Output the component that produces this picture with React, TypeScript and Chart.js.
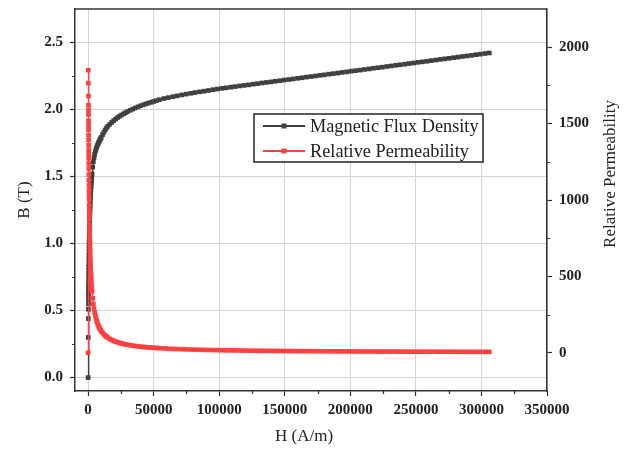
import React, { useEffect, useRef } from 'react';
import { Chart, registerables } from 'chart.js';

Chart.register(...registerables);

// Magnetic field strength H (A/m)
const fieldH = [
  0, 130, 200, 240, 270, 290, 310,
  330, 345, 360, 380, 400, 425, 450, 475, 500, 530,
  560, 600, 640, 680, 720, 760, 800, 850, 900, 950,
  1000, 1070, 1140, 1200, 1280, 1360, 1440, 1520, 1600, 1700,
  1800, 1900, 2000, 2150, 2300, 2450, 2600, 2800, 3000,
  3500, 4000, 4500, 5000, 5500, 6000, 6500, 7000, 7500, 8000,
  8500, 9000, 9500, 10000, 11000, 12000, 13000, 14000, 15000, 16500,
  18000, 19500, 21000, 22500, 24000, 25500, 27000, 28500, 30000, 32000,
  34000, 36000, 38000, 40000, 42000, 44000, 46000, 48000, 50000, 52000,
  54400, 57800, 61200, 64600, 68000, 71400, 74800, 78200, 81600, 85000,
  88400, 91800, 95200, 98600, 102000, 105400, 108800, 112200, 115600, 119000,
  122400, 125800, 129200, 132600, 136000, 139400, 142800, 146200, 149600, 153000,
  156400, 159800, 163200, 166600, 170000, 173400, 176800, 180200, 183600, 187000,
  190400, 193800, 197200, 200600, 204000, 207400, 210800, 214200, 217600, 221000,
  224400, 227800, 231200, 234600, 238000, 241400, 244800, 248200, 251600, 255000,
  258400, 261800, 265200, 268600, 272000, 275400, 278800, 282200, 285600, 289000,
  292400, 295800, 299200, 302600, 306000,
];

// Magnetic flux density B (T)
const fluxB = [
  0, 0.30, 0.44, 0.51, 0.55, 0.58, 0.605,
  0.630, 0.645, 0.660, 0.680, 0.700, 0.725, 0.750, 0.775, 0.800, 0.825,
  0.849, 0.880, 0.909, 0.936, 0.961, 0.985, 1.010, 1.034, 1.057, 1.079,
  1.100, 1.128, 1.155, 1.180, 1.206, 1.230, 1.252, 1.274, 1.292, 1.314,
  1.336, 1.358, 1.380, 1.405, 1.428, 1.450, 1.468, 1.495, 1.520,
  1.570, 1.610, 1.640, 1.665, 1.685, 1.703, 1.718, 1.731, 1.743, 1.754,
  1.764, 1.774, 1.783, 1.792, 1.812, 1.830, 1.847, 1.862, 1.875, 1.890,
  1.904, 1.917, 1.929, 1.940, 1.950, 1.959, 1.968, 1.976, 1.984, 1.994,
  2.003, 2.012, 2.020, 2.028, 2.035, 2.042, 2.048, 2.054, 2.060, 2.066,
  2.073, 2.082, 2.089, 2.096, 2.102, 2.109, 2.115, 2.121, 2.127, 2.132,
  2.137, 2.142, 2.148, 2.153, 2.158, 2.162, 2.167, 2.171, 2.176, 2.180,
  2.184, 2.189, 2.193, 2.198, 2.202, 2.206, 2.211, 2.215, 2.220, 2.224,
  2.228, 2.233, 2.237, 2.242, 2.246, 2.250, 2.255, 2.259, 2.264, 2.268,
  2.272, 2.277, 2.281, 2.286, 2.290, 2.294, 2.299, 2.303, 2.308, 2.312,
  2.316, 2.321, 2.325, 2.330, 2.334, 2.338, 2.343, 2.347, 2.352, 2.356,
  2.360, 2.365, 2.369, 2.374, 2.378, 2.382, 2.387, 2.391, 2.396, 2.400,
  2.404, 2.409, 2.413, 2.418, 2.422,
];

// Relative permeability
const relPerm = [
  0, 1850, 1765, 1680, 1620, 1587, 1559,
  1519, 1488, 1459, 1424, 1393, 1358, 1326, 1298, 1273, 1239,
  1206, 1167, 1130, 1095, 1062, 1031, 1005, 968, 935, 904,
  875, 839, 806, 783, 750, 720, 692, 667, 643, 615,
  591, 569, 549, 520, 494, 471, 449, 425, 403,
  357, 320, 290, 265, 244, 226, 210, 197, 185, 174.5,
  165, 157, 149, 142.6, 131, 121.4, 113.1, 105.8, 99.5, 91.2,
  84.2, 78.2, 73.1, 68.6, 64.7, 61.1, 58.0, 55.2, 52.6, 49.6,
  46.9, 44.5, 42.3, 40.3, 38.6, 36.9, 35.4, 34.1, 32.8, 31.6,
  30.3, 28.7, 27.2, 25.8, 24.6, 23.5, 22.5, 21.6, 20.7, 20.0,
  19.2, 18.6, 18.0, 17.4, 16.8, 16.3, 15.8, 15.4, 15.0, 14.6,
  14.2, 13.8, 13.5, 13.2, 12.9, 12.6, 12.3, 12.1, 11.8, 11.6,
  11.3, 11.1, 10.9, 10.7, 10.5, 10.3, 10.1, 10.0, 9.8, 9.7,
  9.5, 9.3, 9.2, 9.1, 8.9, 8.8, 8.7, 8.6, 8.4, 8.3,
  8.2, 8.1, 8.0, 7.9, 7.8, 7.7, 7.6, 7.5, 7.4, 7.4,
  7.3, 7.2, 7.1, 7.0, 7.0, 6.9, 6.8, 6.7, 6.7, 6.6,
  6.5, 6.5, 6.4, 6.4, 6.3,
];

const seriesNames = ['Magnetic Flux Density', 'Relative Permeability'];
const xTitle = 'H (A/m)';
const yTitle = 'B (T)';
const y1Title = 'Relative Permeability';

const xTicks = [0, 50000, 100000, 150000, 200000, 250000, 300000, 350000];
const xMinor = [25000, 75000, 125000, 175000, 225000, 275000, 325000];
const bTicks = [0, 0.5, 1.0, 1.5, 2.0, 2.5];
const bMinor = [0.25, 0.75, 1.25, 1.75, 2.25];
const muTicks = [0, 500, 1000, 1500, 2000];
const muMinor = [250, 750, 1250, 1750];

const BLACK = '#404040';
const RED = '#ff4040';
const AXIS = '#333333';
const GRID = '#d4d4d4';
const SERIF = '"Liberation Serif", "Times New Roman", serif';

const noPad = (scale: any) => {
  scale.paddingTop = 0;
  scale.paddingBottom = 0;
  scale.paddingLeft = 0;
  scale.paddingRight = 0;
};

const decorPlugin = {
  id: 'decor',
  afterDraw(chart: any) {
    const { ctx, chartArea: a, scales } = chart;
    ctx.save();
    // top frame line
    ctx.strokeStyle = AXIS;
    ctx.lineWidth = 1.5;
    ctx.beginPath();
    ctx.moveTo(a.left, a.top);
    ctx.lineTo(a.right, a.top);
    ctx.stroke();

    // minor ticks
    ctx.lineWidth = 1.2;
    ctx.beginPath();
    xMinor.forEach((v) => {
      const px = Math.round(scales.x.getPixelForValue(v)) + 0.5;
      ctx.moveTo(px, a.bottom);
      ctx.lineTo(px, a.bottom + 3);
    });
    bMinor.forEach((v) => {
      const py = Math.round(scales.y.getPixelForValue(v)) + 0.5;
      ctx.moveTo(a.left, py);
      ctx.lineTo(a.left - 3, py);
    });
    muMinor.forEach((v) => {
      const py = Math.round(scales.y1.getPixelForValue(v)) + 0.5;
      ctx.moveTo(a.right, py);
      ctx.lineTo(a.right + 3, py);
    });
    ctx.stroke();

    // axis titles
    ctx.fillStyle = '#222';
    ctx.font = `17px ${SERIF}`;
    ctx.textAlign = 'center';
    ctx.textBaseline = 'middle';
    ctx.fillText(xTitle, (a.left + a.right) / 2 - 7, 429);
    ctx.save();
    ctx.translate(16.5, (a.top + a.bottom) / 2);
    ctx.rotate(-Math.PI / 2);
    ctx.fillText(yTitle, 0, 0);
    ctx.restore();
    ctx.save();
    ctx.translate(603, (a.top + a.bottom) / 2 - 26);
    ctx.rotate(-Math.PI / 2);
    ctx.fillText(y1Title, 0, 0);
    ctx.restore();

    // legend
    const bx = a.left + 179;
    const by = a.top + 105;
    const bw = 229;
    const bh = 48;
    ctx.fillStyle = '#ffffff';
    ctx.fillRect(bx, by, bw, bh);
    ctx.strokeStyle = '#222';
    ctx.lineWidth = 1.5;
    ctx.strokeRect(bx, by, bw, bh);
    const colors = [BLACK, RED];
    seriesNames.forEach((name, i) => {
      const cy = by + 12 + i * 25;
      ctx.strokeStyle = colors[i];
      ctx.lineWidth = 2;
      ctx.beginPath();
      ctx.moveTo(bx + 9, cy);
      ctx.lineTo(bx + 51, cy);
      ctx.stroke();
      ctx.fillStyle = colors[i];
      ctx.fillRect(bx + 30 - 2.5, cy - 2.5, 5, 5);
      ctx.fillStyle = '#222';
      ctx.font = `18.3px ${SERIF}`;
      ctx.textAlign = 'left';
      ctx.textBaseline = 'middle';
      ctx.fillText(name, bx + 56, cy + 1);
    });
    ctx.restore();
  },
};

export default function App() {
  const canvasRef = useRef<HTMLCanvasElement | null>(null);

  useEffect(() => {
    const canvas = canvasRef.current;
    if (!canvas) return;
    const bData = fieldH.map((h, i) => ({ x: h, y: fluxB[i] }));
    const muData = fieldH.map((h, i) => ({ x: h, y: relPerm[i] }));
    const tickFont = { family: SERIF, size: 15, weight: 'bold' as const };

    const chart = new Chart(canvas, {
      type: 'scatter',
      data: {
        datasets: [
          {
            label: seriesNames[0],
            data: bData,
            yAxisID: 'y',
            showLine: true,
            borderColor: BLACK,
            backgroundColor: BLACK,
            borderWidth: 1.5,
            pointStyle: 'rect',
            pointRadius: 3.3,
            pointBorderWidth: 0,
            pointBackgroundColor: BLACK,
            order: 1,
          },
          {
            label: seriesNames[1],
            data: muData,
            yAxisID: 'y1',
            showLine: true,
            borderColor: RED,
            backgroundColor: RED,
            borderWidth: 1.5,
            pointStyle: 'rect',
            pointRadius: 3.3,
            pointBorderWidth: 0,
            pointBackgroundColor: RED,
            order: 0,
          },
        ],
      },
      options: {
        animation: false,
        responsive: true,
        maintainAspectRatio: false,
        devicePixelRatio: 1,
        layout: { autoPadding: false, padding: { top: 1, left: 0, right: 0, bottom: 0 } },
        plugins: {
          legend: { display: false },
          tooltip: { enabled: false },
          title: { display: false },
        },
        scales: {
          x: {
            type: 'linear',
            position: 'bottom',
            min: -10000,
            max: 350000,
            afterBuildTicks: (scale: any) => {
              scale.ticks = xTicks.map((v) => ({ value: v }));
            },
            afterFit: (scale: any) => {
              scale.height = 55;
              noPad(scale);
            },
            ticks: {
              font: tickFont,
              color: '#222',
              padding: 5,
              maxRotation: 0,
              autoSkip: false,
              callback: (v: any) => String(v),
            },
            grid: { color: GRID, lineWidth: 1, tickLength: 5, tickColor: AXIS, tickWidth: 1.2 },
            border: { display: true, color: AXIS, width: 1.5 },
            title: { display: false },
          },
          y: {
            type: 'linear',
            position: 'left',
            min: -0.1,
            max: 2.75,
            afterBuildTicks: (scale: any) => {
              scale.ticks = bTicks.map((v) => ({ value: v }));
            },
            afterFit: (scale: any) => {
              scale.width = 67;
              noPad(scale);
            },
            ticks: {
              font: tickFont,
              color: '#222',
              padding: 7,
              autoSkip: false,
              callback: (v: any) => Number(v).toFixed(1),
            },
            grid: { color: GRID, lineWidth: 1, tickLength: 5, tickColor: AXIS, tickWidth: 1.2 },
            border: { display: true, color: AXIS, width: 1.5 },
            title: { display: false },
          },
          y1: {
            type: 'linear',
            position: 'right',
            min: -250,
            max: 2250,
            afterBuildTicks: (scale: any) => {
              scale.ticks = muTicks.map((v) => ({ value: v }));
            },
            afterFit: (scale: any) => {
              scale.width = 78;
              noPad(scale);
            },
            ticks: {
              font: tickFont,
              color: '#222',
              padding: 7,
              autoSkip: false,
              callback: (v: any) => String(v),
            },
            grid: { drawOnChartArea: false, tickLength: 5, tickColor: AXIS, tickWidth: 1.2 },
            border: { display: true, color: AXIS, width: 1.5 },
            title: { display: false },
          },
        },
      },
      plugins: [decorPlugin],
    });
    return () => chart.destroy();
  }, []);

  return (
    <div style={{ position: 'relative', width: 617, height: 438 }}>
      <canvas ref={canvasRef} style={{ display: 'block' }} />
    </div>
  );
}
